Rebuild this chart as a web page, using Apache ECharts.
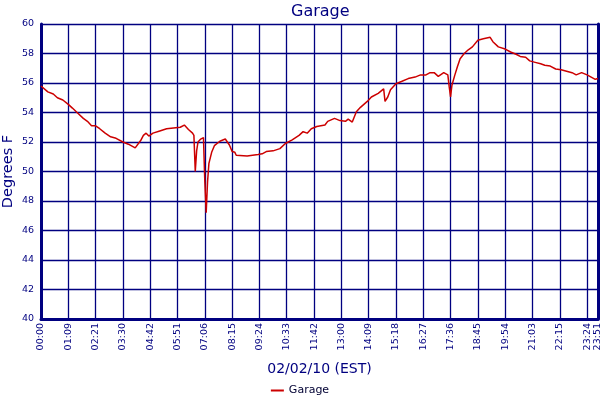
<!DOCTYPE html>
<html>
<head>
<meta charset="utf-8">
<script src="https://cdn.jsdelivr.net/npm/echarts@6/dist/echarts.min.js"></script>
<style>
  html, body { margin: 0; padding: 0; background: #ffffff; }
  #chart { width: 600px; height: 400px; }
</style>
</head>
<body>
<div id="chart"></div>
<script>
// Tick labels on the time axis (one every 20 samples), plus the final timestamp
const tickLabels = ['00:00','01:09','02:21','03:30','04:42','05:51','07:06','08:15','09:24','10:33',
  '11:42','13:00','14:09','15:18','16:27','17:36','18:45','19:54','21:03','22:15','23:24'];
const lastLabel = '23:51';
const samplesPerTick = 20;
const lastSample = 408;

// Sample index along the time axis and the temperature read there (°F)
const sampleIndex = [0,5,9,12,16,20,23,27,31,34,37,40,43,47,51,55,60,64,67,69,70,73,75,77,79,82,87,92,97,102,
  105,108,109,111,112,113,114,115,117,119,120,121,122,123,125,127,131,135,136,138,140,142,143,151,159,162,165,170,175,179,
  184,189,192,195,198,202,208,210,215,219,223,225,228,231,234,239,242,247,251,252,254,256,260,264,269,274,278,282,285,288,
  291,295,298,299,300,301,303,305,307,310,313,316,320,324,329,331,335,340,344,348,351,355,358,362,366,369,373,377,381,385,
  389,392,396,400,403,406,408];
const temperature = [55.8,55.4,55.25,55.0,54.85,54.55,54.3,53.95,53.6,53.4,53.1,53.1,52.9,52.6,52.35,52.25,52.0,51.85,51.7,51.6,
  51.7,52.1,52.45,52.6,52.4,52.6,52.75,52.9,52.95,53.0,
  53.15,52.85,52.8,52.6,52.45,50.0,51.4,52.0,52.2,52.3,49.3,47.2,49.3,50.55,51.3,51.75,52.05,52.2,52.25,51.8,51.35,51.3,51.1,51.05,51.15,51.2,51.35,51.4,51.55,51.9,
  52.15,52.45,52.7,52.6,52.9,53.05,53.15,53.4,53.6,53.45,53.4,53.55,53.35,54.05,54.35,54.75,55.05,55.3,55.6,54.75,55.05,55.55,55.95,56.1,56.3,56.4,56.55,56.55,56.7,56.7,
  56.45,56.7,56.55,55.75,55.05,55.85,56.5,57.1,57.65,58.0,58.25,58.45,58.9,59.0,59.1,58.8,58.45,58.3,58.1,57.95,57.8,57.75,57.5,57.4,57.3,57.2,57.15,56.95,56.9,56.8,
  56.7,56.55,56.7,56.55,56.4,56.25,56.3];

const seriesData = sampleIndex.map((x, i) => [x, temperature[i]]);

const navy = '#000080';
const fontFamily = 'DejaVu Sans';

const chart = echarts.init(document.getElementById('chart'), null, { renderer: 'canvas' });
chart.setOption({
  animation: false,
  backgroundColor: '#ffffff',
  title: {
    text: 'Garage',
    left: 286,
    top: -1,
    textStyle: { color: navy, fontFamily, fontSize: 16, fontWeight: 'normal' }
  },
  legend: {
    top: 380,
    left: 'center',
    icon: 'rect',
    itemWidth: 13,
    itemHeight: 2,
    itemGap: 10,
    textStyle: { color: '#000033', fontFamily, fontSize: 11 },
    data: ['Garage']
  },
  grid: { left: 41, right: 2, top: 24, bottom: 81, containLabel: false, outerBoundsMode: 'none' },
  xAxis: {
    type: 'value',
    min: 0,
    max: lastSample,
    interval: samplesPerTick,
    name: '02/02/10 (EST)',
    nameLocation: 'middle',
    nameGap: 43,
    nameMoveOverlap: false,
    nameTextStyle: { color: navy, fontFamily, fontSize: 14 },
    axisLine: { show: true, lineStyle: { color: navy, width: 3 } },
    axisTick: { show: false },
    splitLine: { show: true, lineStyle: { color: navy, width: 1.3 } },
    axisLabel: {
      show: true,
      rotate: 90,
      margin: 4,
      color: navy,
      fontFamily,
      fontSize: 9.5,
      showMinLabel: true,
      showMaxLabel: true,
      formatter: function (v) {
        if (v === lastSample) return lastLabel;
        const k = Math.round(v / samplesPerTick);
        if (Math.abs(v - k * samplesPerTick) < 1e-6 && k < tickLabels.length) return tickLabels[k];
        return '';
      }
    }
  },
  yAxis: [{
    type: 'value',
    min: 40,
    max: 60,
    interval: 2,
    name: 'Degrees F',
    nameLocation: 'middle',
    nameGap: 25,
    nameMoveOverlap: false,
    nameTextStyle: { color: navy, fontFamily, fontSize: 14.5 },
    axisLine: { show: true, lineStyle: { color: navy, width: 3 } },
    axisTick: { show: false },
    splitLine: { show: true, lineStyle: { color: navy, width: 1.3 } },
    axisLabel: { color: navy, fontFamily, fontSize: 9.5, margin: 7 }
  }, {
    type: 'value',
    position: 'right',
    min: 40,
    max: 60,
    axisLine: { show: true, lineStyle: { color: navy, width: 3 } },
    axisTick: { show: false },
    axisLabel: { show: false },
    splitLine: { show: false }
  }],
  series: [{
    name: 'Garage',
    type: 'line',
    yAxisIndex: 0,
    data: seriesData,
    showSymbol: false,
    symbol: 'none',
    lineStyle: { color: '#cc0000', width: 1.5 },
    itemStyle: { color: '#cc0000' }
  }]
});
</script>
</body>
</html>
